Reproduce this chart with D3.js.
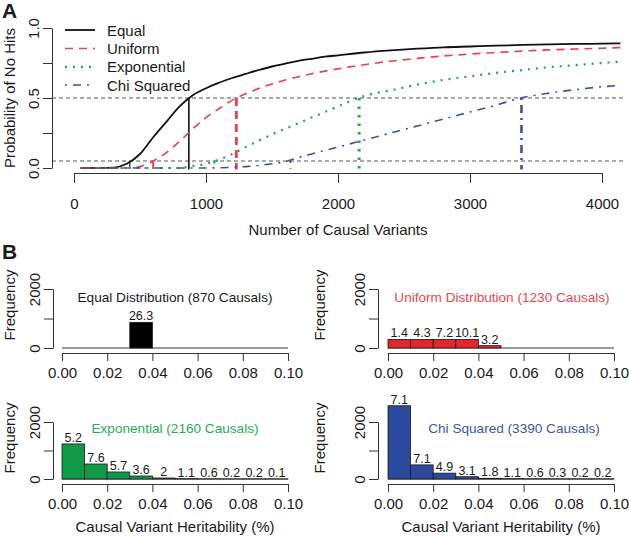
<!DOCTYPE html>
<html><head><meta charset="utf-8">
<script src="https://cdn.jsdelivr.net/npm/d3@7"></script>
<style>body{margin:0;background:#fff} svg text{font-family:"Liberation Sans",Arial,Helvetica,sans-serif;fill:#1a1a1a}</style>
</head><body><svg id="c" width="629" height="536"></svg>
<script>
// ---------------- Panel A data ----------------
const nCausal = [50, 200, 300, 400, 500, 600, 700, 800, 900, 1000, 1100, 1200, 1300, 1400, 1500, 1600, 1700, 1800, 1900, 2000, 2200, 2400, 2600, 2800, 3000, 3200, 3400, 3600, 3800, 4000, 4140];
const probEqual = [0, 0, 0.003, 0.03, 0.10, 0.22, 0.33, 0.44, 0.52, 0.57, 0.61, 0.643, 0.672, 0.70, 0.725, 0.745, 0.765, 0.78, 0.795, 0.805, 0.825, 0.84, 0.852, 0.862, 0.868, 0.874, 0.879, 0.883, 0.886, 0.888, 0.89];
const probUniform = [0, 0, 0, 0, 0.01, 0.05, 0.11, 0.19, 0.28, 0.36, 0.425, 0.485, 0.53, 0.568, 0.60, 0.628, 0.652, 0.673, 0.692, 0.708, 0.738, 0.763, 0.783, 0.80, 0.814, 0.825, 0.835, 0.844, 0.85, 0.855, 0.86];
const probExponential = [0, 0, 0, 0, 0, 0, 0, 0, 0.015, 0.03, 0.06, 0.10, 0.15, 0.195, 0.24, 0.28, 0.32, 0.36, 0.40, 0.44, 0.515, 0.555, 0.595, 0.63, 0.655, 0.68, 0.70, 0.72, 0.735, 0.75, 0.76];
const probChiSquared = [0, 0, 0, 0, 0, 0, 0, 0, 0, 0, 0.002, 0.005, 0.01, 0.018, 0.03, 0.045, 0.075, 0.10, 0.125, 0.15, 0.20, 0.25, 0.30, 0.35, 0.40, 0.45, 0.503, 0.535, 0.56, 0.58, 0.59];
const seriesNames = ["Equal", "Uniform", "Exponential", "Chi Squared"];
const halfCrossing = [870, 1230, 2160, 3390];
const fiveCrossing = [423, 600, 1064, 1640];
const refLevels = [0.5, 0.05];
const xTicksA = [0, 1000, 2000, 3000, 4000];
const yTicksA = [0, 0.25, 0.5, 0.75, 1];
const yTickLabelsA = ["0.0", "", "0.5", "", "1.0"];

// ---------------- Panel B data ----------------
const binStarts = [0, 0.01, 0.02, 0.03, 0.04, 0.05, 0.06, 0.07, 0.08, 0.09];
const countsEqual = [0, 0, 0, 870, 0, 0, 0, 0, 0, 0];
const labelsEqual = ["", "", "", "26.3", "", "", "", "", "", ""];
const countsUniform = [290, 290, 290, 290, 80, 0, 0, 0, 0, 0];
const labelsUniform = ["1.4", "4.3", "7.2", "10.1", "3.2", "", "", "", "", ""];
const countsExponential = [1230, 526, 246, 105, 35, 10, 5, 2, 2, 1];
const labelsExponential = ["5.2", "7.6", "5.7", "3.6", "2", "1.1", "0.6", "0.2", "0.2", "0.1"];
const countsChiSquared = [2570, 495, 205, 80, 25, 10, 6, 3, 2, 2];
const labelsChiSquared = ["7.1", "7.1", "4.9", "3.1", "1.8", "1.1", "0.6", "0.3", "0.2", "0.2"];
const histTitles = ["Equal Distribution (870 Causals)", "Uniform Distribution (1230 Causals)", "Exponential (2160 Causals)", "Chi Squared (3390 Causals)"];
const xTicksB = [0, 0.02, 0.04, 0.06, 0.08, 0.10];
const yTicksB = [0, 1000, 2000];
const binWidth = 0.01;

// ---------------- styles ----------------
const lineColors = ["#111111", "#E8424A", "#1FA85A", "#3F51A0"];
const barColors = ["#000000", "#E3262E", "#109A48", "#2B4A9E"];
const titleColors = ["#1a1a1a", "#E64850", "#25AD5A", "#3D57A6"];
const dashes = [null, "8,6", "2,6", "2,6,8,6"];
const curveWidths = [1.8, 1.6, 2.2, 1.6];
const vertWidths = [1.6, 2.8, 3, 2.6];
const vertDashes = [null, "8,5", "2.5,6", "2,5,8,5"];

const svg = d3.select("#c");

// ================= Panel A =================
const xA = d3.scaleLinear().domain([0, 4000]).range([74, 602]);
const yA = d3.scaleLinear().domain([0, 1]).range([168, 28]);
const plotLeftA = xA.invert(52), plotRightA = xA.invert(623);

const gA = svg.append("g");
gA.selectAll("line.ref").data(refLevels).join("line")
  .attr("x1", xA(plotLeftA)).attr("x2", xA(plotRightA))
  .attr("y1", d => yA(d)).attr("y2", d => yA(d))
  .attr("stroke", "#555").attr("stroke-width", 1).attr("stroke-dasharray", "4,3");

const allProbs = [probEqual, probUniform, probExponential, probChiSquared];
const lineGen = d3.line().curve(d3.curveMonotoneX);
allProbs.forEach((vals, s) => {
  gA.append("path")
    .attr("d", lineGen(nCausal.map((n, i) => [xA(n), yA(vals[i])])))
    .attr("fill", "none").attr("stroke", lineColors[s]).attr("stroke-width", curveWidths[s])
    .attr("stroke-dasharray", dashes[s]);
  gA.append("line")
    .attr("x1", xA(halfCrossing[s])).attr("x2", xA(halfCrossing[s]))
    .attr("y1", yA(0.5)).attr("y2", yA(-0.01))
    .attr("stroke", lineColors[s]).attr("stroke-width", vertWidths[s])
    .attr("stroke-dasharray", vertDashes[s]);
  gA.append("line")
    .attr("x1", xA(fiveCrossing[s])).attr("x2", xA(fiveCrossing[s]))
    .attr("y1", yA(0.05)).attr("y2", yA(-0.005))
    .attr("stroke", lineColors[s]).attr("stroke-width", vertWidths[s] * 0.7)
    .attr("stroke-dasharray", vertDashes[s]);
});

const axA = gA.append("g").attr("transform", "translate(0,173)")
  .call(d3.axisBottom(xA).tickValues(xTicksA).tickSize(10).tickSizeOuter(0).tickFormat(d3.format("d")));
axA.select(".domain").attr("stroke", "#333");
axA.selectAll(".tick line").attr("stroke", "#333");
axA.selectAll("text").attr("dy", null).attr("y", 36).attr("font-size", 15).attr("fill", "#1a1a1a");

const ayA = gA.append("g").attr("transform", "translate(52,0)")
  .call(d3.axisLeft(yA).tickValues(yTicksA).tickSize(9).tickSizeOuter(0).tickFormat((d, i) => yTickLabelsA[i]));
ayA.select(".domain").attr("stroke", "#333");
ayA.selectAll(".tick line").attr("stroke", "#333");
ayA.selectAll("text").attr("x", null).attr("dy", null).attr("text-anchor", "middle")
  .attr("transform", "translate(-13,0) rotate(-90)").attr("font-size", 15).attr("fill", "#1a1a1a");

gA.append("text").attr("x", 338).attr("y", 235).attr("text-anchor", "middle").attr("font-size", 15).text("Number of Causal Variants");
gA.append("text").attr("transform", "translate(15,98) rotate(-90)").attr("text-anchor", "middle").attr("font-size", 15).text("Probability of No Hits");

const legRowY = [30, 48.5, 66.8, 85];
seriesNames.forEach((nm, s) => {
  gA.append("line").attr("x1", 65).attr("x2", 95).attr("y1", legRowY[s]).attr("y2", legRowY[s])
    .attr("stroke", lineColors[s]).attr("stroke-width", curveWidths[s]).attr("stroke-dasharray", dashes[s]);
  gA.append("text").attr("x", 107).attr("y", legRowY[s] + 5.5).attr("font-size", 15).text(nm);
});

svg.append("text").attr("x", 2).attr("y", 18).attr("font-size", 21).attr("font-weight", "bold").text("A");
svg.append("text").attr("x", 2).attr("y", 259).attr("font-size", 21).attr("font-weight", "bold").text("B");

// ================= Panel B =================
const allCounts = [countsEqual, countsUniform, countsExponential, countsChiSquared];
const allLabels = [labelsEqual, labelsUniform, labelsExponential, labelsChiSquared];
const panels = [
  {x0: 62, axisX: 53, zeroY: 348, topY: 289, axisY: 353, titleX: 175, titleY: 302, freqX: 15, freqY: 305, xTitle: false},
  {x0: 388, axisX: 378, zeroY: 348, topY: 289, axisY: 353, titleX: 502, titleY: 302, freqX: 325, freqY: 305, xTitle: false},
  {x0: 62, axisX: 53, zeroY: 479, topY: 422, axisY: 484, titleX: 175, titleY: 433, freqX: 15, freqY: 438, xTitle: true},
  {x0: 388, axisX: 378, zeroY: 479, topY: 422, axisY: 484, titleX: 514, titleY: 433, freqX: 325, freqY: 438, xTitle: true}
];

panels.forEach((p, k) => {
  const g = svg.append("g");
  const xB = d3.scaleLinear().domain([0, 0.1]).range([p.x0, p.x0 + 226]);
  const yB = d3.scaleLinear().domain([0, 2000]).range([p.zeroY, p.topY]);
  g.append("line").attr("x1", xB(0)).attr("x2", xB(0.1)).attr("y1", yB(0)).attr("y2", yB(0))
    .attr("stroke", "#9a9a9a").attr("stroke-width", 2);
  const counts = allCounts[k], labels = allLabels[k];
  const bins = binStarts.map((b, i) => ({b, c: counts[i], l: labels[i]}));
  g.selectAll("rect").data(bins.filter(d => d.c > 0)).join("rect")
    .attr("x", d => xB(d.b)).attr("width", d => xB(d.b + binWidth) - xB(d.b))
    .attr("y", d => yB(d.c)).attr("height", d => yB(0) - yB(d.c))
    .attr("fill", barColors[k]).attr("stroke", "#1a1a1a").attr("stroke-width", 0.8);
  g.selectAll("text.bl").data(bins.filter(d => d.l !== "")).join("text")
    .attr("x", d => xB(d.b + binWidth / 2)).attr("y", d => yB(d.c) - 2)
    .attr("text-anchor", "middle").attr("font-size", 12.5).text(d => d.l);
  const ax = g.append("g").attr("transform", `translate(0,${p.axisY})`)
    .call(d3.axisBottom(xB).tickValues(xTicksB).tickSize(8).tickSizeOuter(0).tickFormat(d3.format(".2f")));
  ax.select(".domain").attr("stroke", "#333");
  ax.selectAll(".tick line").attr("stroke", "#333");
  ax.selectAll("text").attr("dy", null).attr("y", 25).attr("font-size", 15).attr("fill", "#1a1a1a");
  const ay = g.append("g").attr("transform", `translate(${p.axisX},0)`)
    .call(d3.axisLeft(yB).tickValues(yTicksB).tickSize(9).tickSizeOuter(0).tickFormat(d => d === 1000 ? "" : d));
  ay.select(".domain").attr("stroke", "#333");
  ay.selectAll(".tick line").attr("stroke", "#333");
  ay.selectAll("text").attr("x", null).attr("dy", null).attr("text-anchor", "middle")
    .attr("transform", "translate(-13,0) rotate(-90)").attr("font-size", 15).attr("fill", "#1a1a1a");
  g.append("text").attr("transform", `translate(${p.freqX},${p.freqY}) rotate(-90)`).attr("text-anchor", "middle").attr("font-size", 15).text("Frequency");
  g.append("text").attr("x", p.titleX).attr("y", p.titleY).attr("text-anchor", "middle").attr("font-size", 13.6)
    .style("fill", titleColors[k]).text(histTitles[k]);
  if (p.xTitle) {
    g.append("text").attr("x", xB(0.05)).attr("y", 532).attr("text-anchor", "middle").attr("font-size", 15).text("Causal Variant Heritability (%)");
  }
});
</script></body></html>
